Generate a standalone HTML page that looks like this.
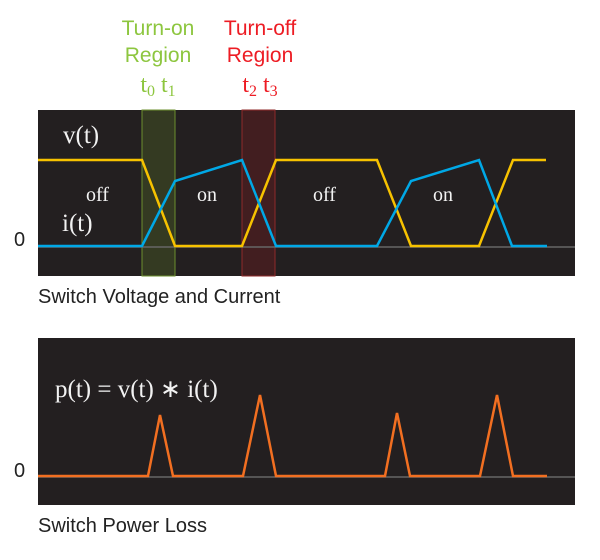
<!DOCTYPE html>
<html><head><style>body{margin:0;background:#fff}</style></head><body>
<svg width="600" height="555" xmlns="http://www.w3.org/2000/svg">
<g font-family="Liberation Sans, sans-serif" font-size="21" text-anchor="middle">
<text x="158" y="35" fill="#8dc63f">Turn-on</text>
<text x="158" y="62" fill="#8dc63f">Region</text>
<text x="260" y="35" fill="#ed1c24">Turn-off</text>
<text x="260" y="62" fill="#ed1c24">Region</text>
</g>
<g font-family="Liberation Serif, serif" font-size="24" text-anchor="middle">
<text x="158" y="92" fill="#8dc63f">t<tspan font-size="16" dy="4">0</tspan><tspan dy="-4"> t</tspan><tspan font-size="16" dy="4">1</tspan></text>
<text x="260" y="92" fill="#ed1c24">t<tspan font-size="16" dy="4">2</tspan><tspan dy="-4"> t</tspan><tspan font-size="16" dy="4">3</tspan></text>
</g>
<rect x="38" y="110" width="537" height="166" fill="#231f20"/>
<rect x="142" y="110" width="33" height="166" fill="#343a22" stroke="#6b8f2e" stroke-width="1"/>
<rect x="242" y="110" width="33" height="166" fill="#421e20" stroke="#8f2a2a" stroke-width="1"/>
<line x1="38" y1="247" x2="575" y2="247" stroke="#666" stroke-width="1.5"/>
<polyline fill="none" stroke="#f7c200" stroke-width="2.5" points="38,160 142,160 175,246 242,246 276,160 377,160 411,246 479,246 513,160 546,160"/>
<polyline fill="none" stroke="#00a8e6" stroke-width="2.5" points="38,246 142,246 175,181 242,160 276,246 377,246 411,181 479,160 512,246 547,246"/>
<g font-family="Liberation Serif, serif" fill="#f2f2f2">
<text x="63" y="143" font-size="25">v(t)</text>
<text x="62" y="231" font-size="25">i(t)</text>
<text x="86" y="201" font-size="20">off</text>
<text x="197" y="201" font-size="20">on</text>
<text x="313" y="201" font-size="20">off</text>
<text x="433" y="201" font-size="20">on</text>
</g>
<text x="14" y="246" font-family="Liberation Sans, sans-serif" font-size="20" fill="#222">0</text>
<text x="38" y="303" font-family="Liberation Sans, sans-serif" font-size="20" fill="#222">Switch Voltage and Current</text>
<rect x="38" y="338" width="537" height="167" fill="#231f20"/>
<line x1="38" y1="477" x2="575" y2="477" stroke="#666" stroke-width="1.5"/>
<polyline fill="none" stroke="#f26f21" stroke-width="2.5" points="38,476 148,476 160,415 173,476 243,476 260,395 276,476 385,476 397,413 410,476 480,476 497,395 513,476 547,476"/>
<text x="55" y="397" font-family="Liberation Serif, serif" font-size="25" fill="#f2f2f2">p(t) = v(t) ∗ i(t)</text>
<text x="14" y="477" font-family="Liberation Sans, sans-serif" font-size="20" fill="#222">0</text>
<text x="38" y="532" font-family="Liberation Sans, sans-serif" font-size="20" fill="#222">Switch Power Loss</text>
</svg>
</body></html>
